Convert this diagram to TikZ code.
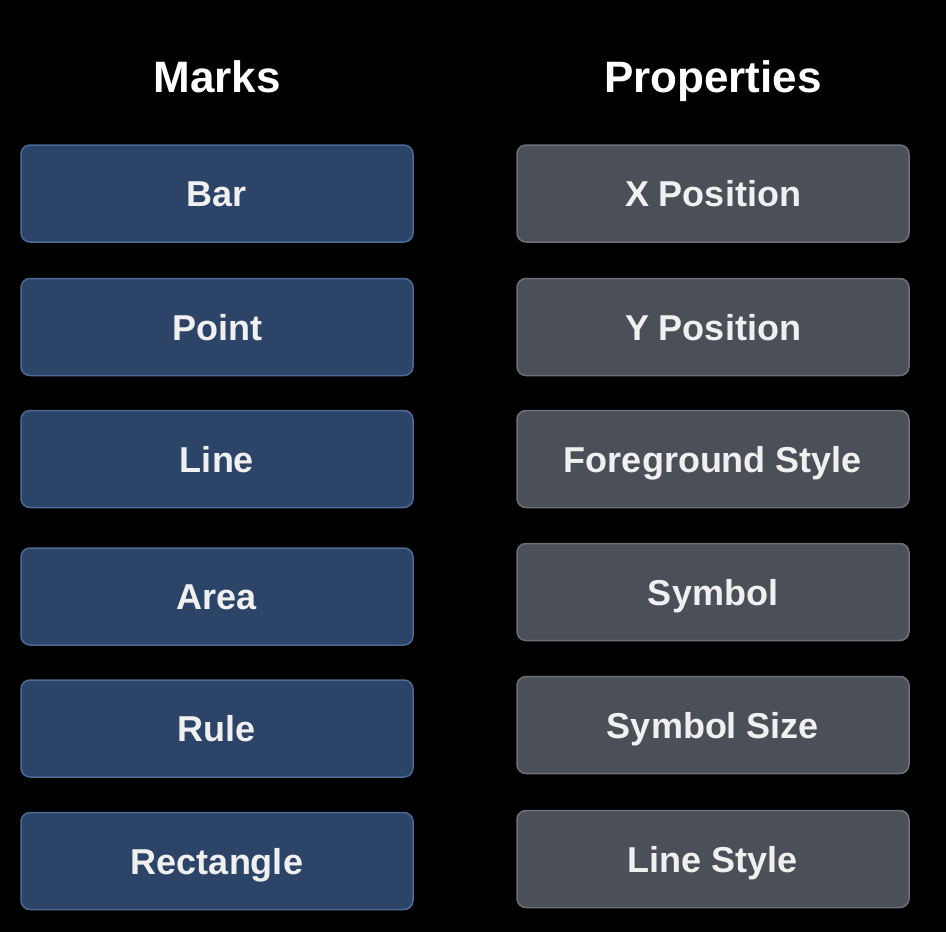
\documentclass[tikz,border=0pt]{standalone}
\usepackage{fontspec}
\setmainfont{Liberation Sans}
\definecolor{markfill}{HTML}{2C4468}
\definecolor{markline}{HTML}{4C6A94}
\definecolor{propfill}{HTML}{4A4F58}
\definecolor{propline}{HTML}{6C7078}
\tikzset{
  markbox/.style={draw=markline, fill=markfill, line width=1.5pt, rounded corners=9pt,
    minimum width=392pt, minimum height=97pt, text height=26pt, text depth=0pt,
    text=white!94!black, font=\fontsize{36}{40}\selectfont\bfseries},
  propbox/.style={markbox, draw=propline, fill=propfill},
  heading/.style={anchor=base, text=white, font=\fontsize{44}{50}\selectfont\bfseries}
}
\begin{document}
\begin{tikzpicture}[x=1pt, y=-1pt]
	\fill[black] (0,0) rectangle (946,932);
	\useasboundingbox (0,0) rectangle (946,932);
	
	\node[heading] (marks) at (217,92) {Marks};
	\node[heading] (props) at (713,92) {Properties};
	
	\node[markbox] (bar) at (217,193.5) {Bar};
	\node[markbox] (point) at (217,327) {Point};
	\node[markbox] (line) at (217,459) {Line};
	\node[markbox] (area) at (217,596.5) {Area};
	\node[markbox] (rule) at (217,728.5) {Rule};
	\node[markbox] (rect) at (217,861) {Rectangle};
	
	\node[propbox] (xpos) at (713,193.5) {X Position};
	\node[propbox] (ypos) at (713,327) {Y Position};
	\node[propbox] (fgstyle) at (713,459) {Foreground Style};
	\node[propbox] (symbol) at (713,592) {Symbol};
	\node[propbox] (symsize) at (713,725) {Symbol Size};
	\node[propbox] (linestyle) at (713,859) {Line Style};
\end{tikzpicture}
\end{document}
